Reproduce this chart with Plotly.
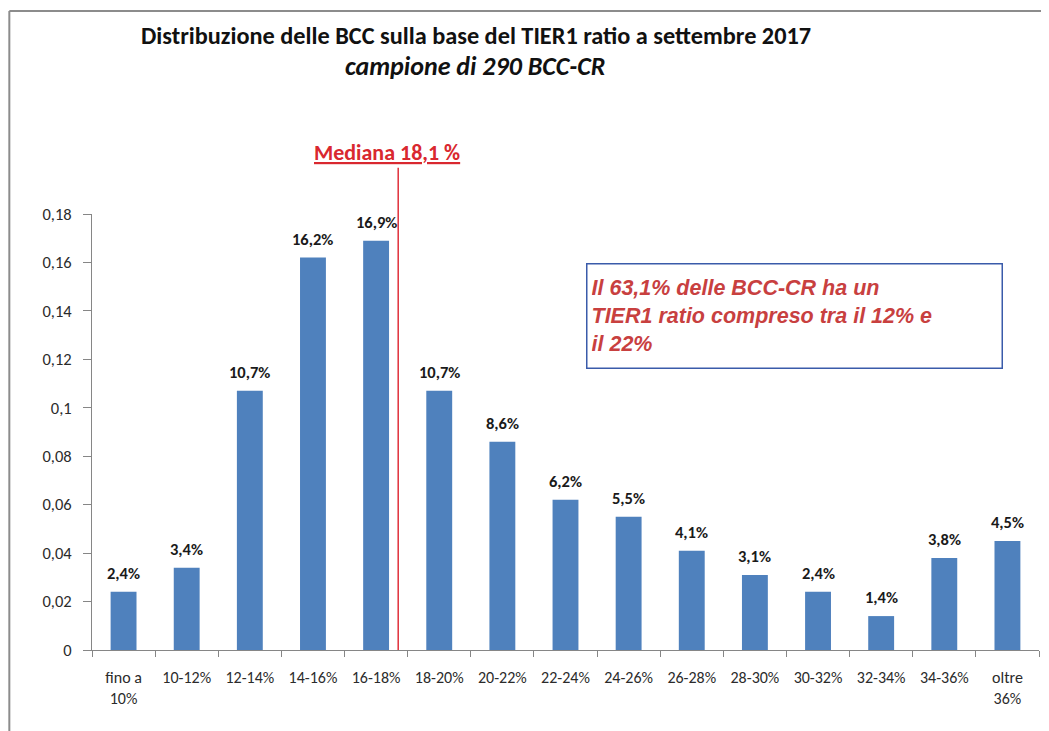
import plotly.graph_objects as go

# classi di TIER1 ratio e quota di BCC per classe
categories = ["fino a<br>10%", "10-12%", "12-14%", "14-16%", "16-18%", "18-20%", "20-22%",
              "22-24%", "24-26%", "26-28%", "28-30%", "30-32%", "32-34%", "34-36%", "oltre<br>36%"]
shares = [0.024, 0.034, 0.107, 0.162, 0.169, 0.107, 0.086, 0.062, 0.055, 0.041,
          0.031, 0.024, 0.014, 0.038, 0.045]
share_labels = ["2,4%", "3,4%", "10,7%", "16,2%", "16,9%", "10,7%", "8,6%", "6,2%",
                "5,5%", "4,1%", "3,1%", "2,4%", "1,4%", "3,8%", "4,5%"]
y_ticks = [0, 0.02, 0.04, 0.06, 0.08, 0.1, 0.12, 0.14, 0.16, 0.18]
y_tick_labels = ["0", "0,02", "0,04", "0,06", "0,08", "0,1", "0,12", "0,14", "0,16", "0,18"]
median_pos = 4.35  # posizione della mediana (18,1%) sull'asse delle classi

FONT = "Carlito, Lato, 'Open Sans', sans-serif"

fig = go.Figure()
fig.add_trace(go.Bar(
    x=categories, y=shares,
    marker=dict(color="#4F81BD", line=dict(width=0)),
    width=0.41,
    hoverinfo="skip",
))

# etichette dei valori sopra le barre
for cat, val, lab in zip(categories, shares, share_labels):
    fig.add_annotation(x=cat, y=val, text=f"<b>{lab}</b>", showarrow=False,
                       yanchor="bottom", yshift=7,
                       font=dict(family=FONT, size=16.5, color="#1a1a1a"))

# la pagina ha 8px di margine del body: i margini ne tengono conto
fig.update_layout(
    width=1049, height=731,
    margin=dict(l=84, r=18, t=206, b=89),
    paper_bgcolor="white", plot_bgcolor="white",
    showlegend=False,
    font=dict(family=FONT, size=16, color="#2b2b2b"),
    xaxis=dict(
        type="category", tickson="boundaries", ticks="outside", ticklen=6,
        ticklabelstandoff=13,
        tickcolor="#868686", showline=True, linecolor="#868686", linewidth=1,
        showgrid=False, tickfont=dict(size=16, color="#2b2b2b"),
    ),
    yaxis=dict(
        range=[0, 0.18], tickvals=y_ticks, ticktext=y_tick_labels,
        ticks="outside", ticklen=8, ticklabelstandoff=8, tickcolor="#868686",
        showline=True, linecolor="#868686", linewidth=1,
        showgrid=False, zeroline=False, tickfont=dict(size=16.5, color="#2b2b2b"),
    ),
)

# linea della mediana
fig.add_shape(type="line", xref="x", yref="paper", x0=median_pos, x1=median_pos,
              y0=0, y1=1.106, line=dict(color="#E0303A", width=1.5))

# cornice esterna
fig.add_shape(type="line", xref="paper", yref="paper", x0=-0.0873, x1=1.03,
              y0=1.4656, y1=1.4656, line=dict(color="#8c8c8c", width=2))
fig.add_shape(type="line", xref="paper", yref="paper", x0=-0.0873, x1=-0.0873,
              y0=-0.21, y1=1.4656, line=dict(color="#8c8c8c", width=2))

fig.add_annotation(
    text="<b>Distribuzione delle BCC sulla base del TIER1 ratio a settembre 2017</b>",
    xref="paper", yref="paper", x=0.406, y=1.408, xanchor="center", yanchor="middle",
    showarrow=False, font=dict(family=FONT, size=24.3, color="#111111"),
)
fig.add_annotation(
    text="<b><i>campione di 290 BCC-CR</i></b>",
    xref="paper", yref="paper", x=0.404, y=1.339, xanchor="center", yanchor="middle",
    showarrow=False, font=dict(family=FONT, size=26, color="#111111"),
)
fig.add_annotation(
    text="<b><u>Mediana 18,1 %</u></b>",
    xref="paper", yref="paper", x=0.312, y=1.14, xanchor="center", yanchor="middle",
    showarrow=False, font=dict(family=FONT, size=22, color="#D9282F"),
)
fig.add_annotation(
    text="<b><i>Il 63,1% delle BCC-CR ha un<br>TIER1 ratio compreso tra il 12% e<br>il 22%</i></b>",
    xref="paper", yref="paper", x=0.742, y=0.765, xanchor="center", yanchor="middle",
    showarrow=False, align="left", width=406, height=95,
    bordercolor="#3A5BAA", borderwidth=1.5, borderpad=4, bgcolor="white",
    font=dict(family="'Liberation Sans', Arial, sans-serif", size=21.5, color="#C8403F"),
)

fig.write_html("out.html")
